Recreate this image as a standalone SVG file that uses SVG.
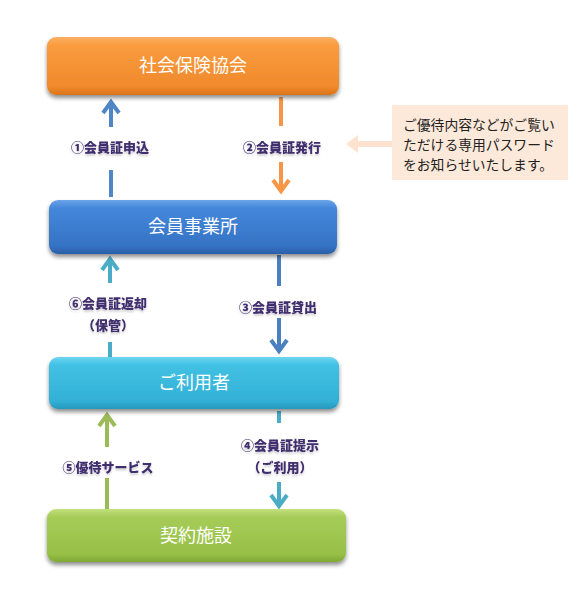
<svg xmlns="http://www.w3.org/2000/svg" width="580" height="600" viewBox="0 0 580 600">
<defs>
<linearGradient id="gO" x1="0" y1="0" x2="0" y2="1"><stop offset="0" stop-color="#fbb066"/><stop offset="0.15" stop-color="#fa9b3e"/><stop offset="0.85" stop-color="#f08a2c"/><stop offset="1" stop-color="#d9741a"/></linearGradient>
<linearGradient id="gB" x1="0" y1="0" x2="0" y2="1"><stop offset="0" stop-color="#6aa4e8"/><stop offset="0.15" stop-color="#4587da"/><stop offset="0.85" stop-color="#3573c4"/><stop offset="1" stop-color="#2a5fa8"/></linearGradient>
<linearGradient id="gC" x1="0" y1="0" x2="0" y2="1"><stop offset="0" stop-color="#6fd6f0"/><stop offset="0.15" stop-color="#41c1e4"/><stop offset="0.85" stop-color="#33b0d6"/><stop offset="1" stop-color="#2598bb"/></linearGradient>
<linearGradient id="gG" x1="0" y1="0" x2="0" y2="1"><stop offset="0" stop-color="#c2e07e"/><stop offset="0.15" stop-color="#a6cc58"/><stop offset="0.85" stop-color="#97c047"/><stop offset="1" stop-color="#7fa836"/></linearGradient>
<filter id="sh" x="-5%" y="-10%" width="110%" height="130%"><feGaussianBlur in="SourceAlpha" stdDeviation="2"/><feOffset dy="3"/><feComponentTransfer><feFuncA type="linear" slope="0.45"/></feComponentTransfer><feMerge><feMergeNode/><feMergeNode in="SourceGraphic"/></feMerge></filter>
<filter id="tg" x="-10%" y="-30%" width="120%" height="170%"><feGaussianBlur in="SourceAlpha" stdDeviation="1"/><feOffset dy="2"/><feComponentTransfer><feFuncA type="linear" slope="0.2"/></feComponentTransfer><feMerge><feMergeNode/><feMergeNode in="SourceGraphic"/></feMerge></filter>
</defs>
<style>
.box{stroke:none;filter:url(#sh)}
.bt{font-family:"Noto Sans CJK JP","Noto Sans",sans-serif;font-size:18px;fill:#ffffff;text-anchor:middle}
.lb{font-family:"Noto Sans CJK JP","Noto Sans",sans-serif;font-size:13px;font-weight:900;fill:#3f2d6e;text-anchor:middle;filter:url(#tg)}
.ct{font-family:"Noto Sans CJK JP","Noto Sans",sans-serif;font-size:13.8px;fill:#222222}
.ln{fill:none;stroke-width:4}
.hd{fill:none;stroke-width:4;stroke-linejoin:miter}
</style>
<g id="connectors">
<g id="c1" stroke="#4f86c6"><path class="ln" d="M111 197V170M111 127V103"/><path class="hd" d="M103 113L111 102L119 113"/></g>
<g id="c2" stroke="#f79646"><path class="ln" d="M281 97V126M281 162V190"/><path class="hd" d="M273 180L281 191L289 180"/></g>
<g id="c3" stroke="#4a7fc0"><path class="ln" d="M279 255V286M279 318V350"/><path class="hd" d="M271 340L279 351L287 340"/></g>
<g id="c6" stroke="#4bacc6"><path class="ln" d="M110 357V342M110 283V260"/><path class="hd" d="M102 270L110 259L118 270"/></g>
<g id="c4" stroke="#4bacc6"><path class="ln" d="M279 411V423M279 482V505"/><path class="hd" d="M271 495L279 506L287 495"/></g>
<g id="c5" stroke="#9bbb59"><path class="ln" d="M107 509V478M107 447V416"/><path class="hd" d="M99 426L107 415L115 426"/></g>
<text class="lb" x="110" y="152">①会員証申込</text>
<text class="lb" x="282" y="152">②会員証発行</text>
<text class="lb" x="108" y="308">⑥会員証返却</text>
<text class="lb" x="108" y="330">（保管）</text>
<text class="lb" x="278" y="312">③会員証貸出</text>
<text class="lb" x="108" y="472">⑤優待サービス</text>
<text class="lb" x="280" y="450">④会員証提示</text>
<text class="lb" x="280" y="472">（ご利用）</text>
</g>
<g id="n1"><rect class="box" x="47" y="37" width="292" height="58" rx="9" fill="url(#gO)"/><text class="bt" x="193" y="72">社会保険協会</text></g>
<g id="n2"><rect class="box" x="49" y="200" width="288" height="54" rx="9" fill="url(#gB)"/><text class="bt" x="193" y="233">会員事業所</text></g>
<g id="n3"><rect class="box" x="49" y="357" width="290" height="52" rx="9" fill="url(#gC)"/><text class="bt" x="194" y="389">ご利用者</text></g>
<g id="n4"><rect class="box" x="47" y="509" width="299" height="53" rx="9" fill="url(#gG)"/><text class="bt" x="196" y="542">契約施設</text></g>
<g id="callout">
<path d="M346 144L358 135V141H393V147H358V153Z" fill="#fde3cf"/>
<rect x="392" y="105" width="176" height="75" fill="#fde9d9"/>
<text class="ct" x="403" y="130">ご優待内容などがご覧い</text>
<text class="ct" x="403" y="150">ただける専用パスワード</text>
<text class="ct" x="403" y="170">をお知らせいたします。</text>
</g>
</svg>
